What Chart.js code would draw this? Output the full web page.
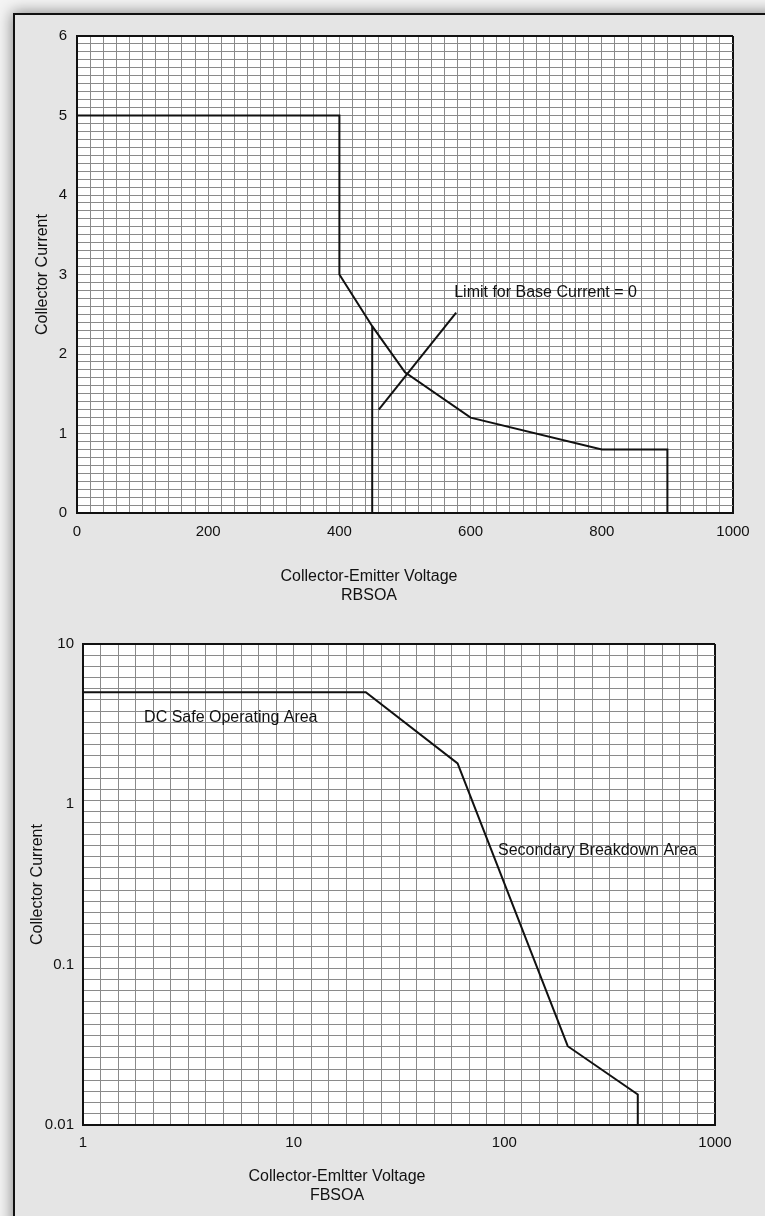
<!DOCTYPE html>
<html>
<head>
<meta charset="utf-8">
<script src="https://cdn.jsdelivr.net/npm/chart.js@4.4.1/dist/chart.umd.min.js"></script>
<style>
  html, body { margin: 0; padding: 0; width: 765px; height: 1216px; overflow: hidden; background: #f4f4f4; }
  #frame { position: absolute; left: 13px; top: 13px; width: 820px; height: 1300px; background: #e5e5e5;
           border-left: 2px solid #111; border-top: 2px solid #111; box-shadow: 0 0 14px 1px rgba(0,0,0,0.45); }
  canvas { position: absolute; left: 0; }
  #c1 { top: 0; }
  #c2 { top: 620px; }
</style>
</head>
<body>
<div id="frame"></div>
<canvas id="c1" width="765" height="620" style="width:765px;height:620px"></canvas>
<canvas id="c2" width="765" height="596" style="width:765px;height:596px"></canvas>
<script>
// ---------- RBSOA (top chart) data ----------
const rbsoaVoltage   = [0, 400, 400, 450, 500, 600, 800, 900, 900];
const rbsoaCurrent   = [5, 5, 3, 2.35, 1.77, 1.2, 0.8, 0.8, 0];
const baseLimitVoltage = [450, 450];
const baseLimitCurrent = [0, 2.35];
const pointerVoltage = [460, 578];
const pointerCurrent = [1.3, 2.52];
const rbsoaXTicks = [0, 200, 400, 600, 800, 1000];
const rbsoaYTicks = [0, 1, 2, 3, 4, 5, 6];

// ---------- FBSOA (bottom chart) data ----------
const fbsoaVoltage = [1, 22, 60, 200, 430, 430];
const fbsoaCurrent = [5, 5, 1.8, 0.031, 0.0155, 0.01];
const fbsoaXTicks = ['1', '10', '100', '1000'];
const fbsoaYTicks = ['0.01', '0.1', '1', '10'];

const FONT = '"Liberation Sans", Arial, Helvetica, sans-serif';
const GRID = '#8a8a8a';
const INK = '#111';

function pts(xs, ys) { return xs.map((x, i) => ({x: x, y: ys[i]})); }
function lineDs(xs, ys) {
  return { data: pts(xs, ys), showLine: true, borderColor: INK, borderWidth: 2,
           pointRadius: 0, tension: 0, borderJoinStyle: 'miter', fill: false };
}

const textPlugin = {
  id: 'texts',
  beforeDraw(chart) {
    const {ctx, chartArea: a} = chart;
    ctx.save();
    ctx.fillStyle = '#ffffff';
    ctx.fillRect(a.left, a.top, a.right - a.left, a.bottom - a.top);
    ctx.restore();
  },
  afterDatasetsDraw(chart, args, opts) {
    const {ctx} = chart;
    ctx.save();
    ctx.fillStyle = INK;
    ctx.font = '16px ' + FONT;
    ctx.textBaseline = 'middle';
    ctx.textAlign = 'left';
    (opts.notes || []).forEach(n => {
      ctx.fillText(n.text, chart.scales.x.getPixelForValue(n.x), chart.scales.y.getPixelForValue(n.y));
    });
    ctx.textAlign = 'center';
    (opts.xTitle || []).forEach(t => { ctx.fillText(t.text, t.cx, t.cy); });
    ctx.restore();
  }
};

// ---------- Chart 1 ----------
new Chart(document.getElementById('c1'), {
  type: 'scatter',
  data: { datasets: [
    lineDs(rbsoaVoltage, rbsoaCurrent),
    lineDs(baseLimitVoltage, baseLimitCurrent),
    lineDs(pointerVoltage, pointerCurrent)
  ]},
  options: {
    responsive: false, animation: false, devicePixelRatio: 1,
    layout: { padding: { left: 0, right: 32, top: 36, bottom: 0 } },
    plugins: {
      legend: { display: false }, tooltip: { enabled: false },
      texts: {
        notes: [{ text: 'Limit for Base Current = 0', x: 575, y: 2.77 }],
        xTitle: [{ text: 'Collector-Emitter Voltage', cx: 369, cy: 577 },
                 { text: 'RBSOA', cx: 369, cy: 596 }]
      }
    },
    scales: {
      x: {
        type: 'linear', min: 0, max: 1000,
        afterFit: s => { s.height = 107; },
        border: { color: INK, width: 2 },
        grid: { color: c => (c.tick && c.tick.value === 1000) ? INK : GRID,
                lineWidth: c => (c.tick && c.tick.value === 1000) ? 2 : 1,
                drawTicks: false },
        ticks: { stepSize: 20, autoSkip: false, maxRotation: 0, padding: 10, color: INK,
                 font: { family: FONT, size: 15 },
                 callback: v => rbsoaXTicks.includes(v) ? String(v) : '' }
      },
      y: {
        type: 'linear', min: 0, max: 6,
        afterFit: s => { s.width = 77; },
        border: { color: INK, width: 2 },
        grid: { color: c => (c.tick && Math.abs(c.tick.value - 6) < 1e-6) ? INK : GRID,
                lineWidth: c => (c.tick && Math.abs(c.tick.value - 6) < 1e-6) ? 2 : 1,
                drawTicks: false },
        ticks: { stepSize: 0.1, autoSkip: false, padding: 10, color: INK,
                 font: { family: FONT, size: 15 },
                 callback: v => { const r = Math.round(v); return (Math.abs(v - r) < 1e-6 && rbsoaYTicks.includes(r)) ? String(r) : ''; } },
        title: { display: true, text: 'Collector Current', color: INK,
                 font: { family: FONT, size: 16 }, padding: { top: 33, bottom: 0 } }
      }
    }
  },
  plugins: [textPlugin]
});

// ---------- Chart 2 ----------
const X_COLS = 36, Y_ROWS = 43;
new Chart(document.getElementById('c2'), {
  type: 'scatter',
  data: { datasets: [ lineDs(fbsoaVoltage, fbsoaCurrent) ] },
  options: {
    responsive: false, animation: false, devicePixelRatio: 1,
    layout: { padding: { left: 0, right: 50, top: 24, bottom: 0 } },
    plugins: {
      legend: { display: false }, tooltip: { enabled: false },
      texts: {
        notes: [{ text: 'DC Safe Operating Area', x: 1.95, y: 3.46 },
                { text: 'Secondary Breakdown Area', x: 93.3, y: 0.512 }],
        xTitle: [{ text: 'Collector-Emltter Voltage', cx: 337, cy: 557 },
                 { text: 'FBSOA', cx: 337, cy: 576 }]
      }
    },
    scales: {
      x: {
        type: 'logarithmic', min: 1, max: 1000,
        afterFit: s => { s.height = 91; },
        afterBuildTicks: s => {
          const t = [];
          for (let k = 0; k <= X_COLS; k++) t.push({ value: Math.pow(10, 3 * k / X_COLS), lab: (k % 12 === 0) ? fbsoaXTicks[k / 12] : '', edge: k === X_COLS });
          s.ticks = t;
        },
        border: { color: INK, width: 2 },
        grid: { color: c => (c.tick && c.tick.edge) ? INK : GRID,
                lineWidth: c => (c.tick && c.tick.edge) ? 2 : 1,
                drawTicks: false },
        ticks: { autoSkip: false, maxRotation: 0, padding: 9, color: INK,
                 font: { family: FONT, size: 15 },
                 callback: (v, i, ticks) => ticks[i].lab || '' }
      },
      y: {
        type: 'logarithmic', min: 0.01, max: 10,
        afterFit: s => { s.width = 83; },
        afterBuildTicks: s => {
          const t = [];
          for (let k = 0; k <= Y_ROWS; k++) {
            t.push({ value: Math.pow(10, -2 + 3 * k / Y_ROWS), grid: true,
                     lab: k === 0 ? fbsoaYTicks[0] : (k === Y_ROWS ? fbsoaYTicks[3] : ''), edge: k === Y_ROWS });
          }
          t.push({ value: 0.1, grid: false, lab: fbsoaYTicks[1] });
          t.push({ value: 1, grid: false, lab: fbsoaYTicks[2] });
          t.sort((a, b) => a.value - b.value);
          s.ticks = t;
        },
        border: { color: INK, width: 2 },
        grid: { color: c => !c.tick ? GRID : (c.tick.edge ? INK : (c.tick.grid ? GRID : 'rgba(0,0,0,0)')),
                lineWidth: c => (c.tick && c.tick.edge) ? 2 : 1,
                drawTicks: false },
        ticks: { autoSkip: false, padding: 9, color: INK,
                 font: { family: FONT, size: 15 },
                 callback: (v, i, ticks) => ticks[i].lab || '' },
        title: { display: true, text: 'Collector Current', color: INK,
                 font: { family: FONT, size: 16 }, padding: { top: 28, bottom: 0 } }
      }
    }
  },
  plugins: [textPlugin]
});
</script>
</body>
</html>
